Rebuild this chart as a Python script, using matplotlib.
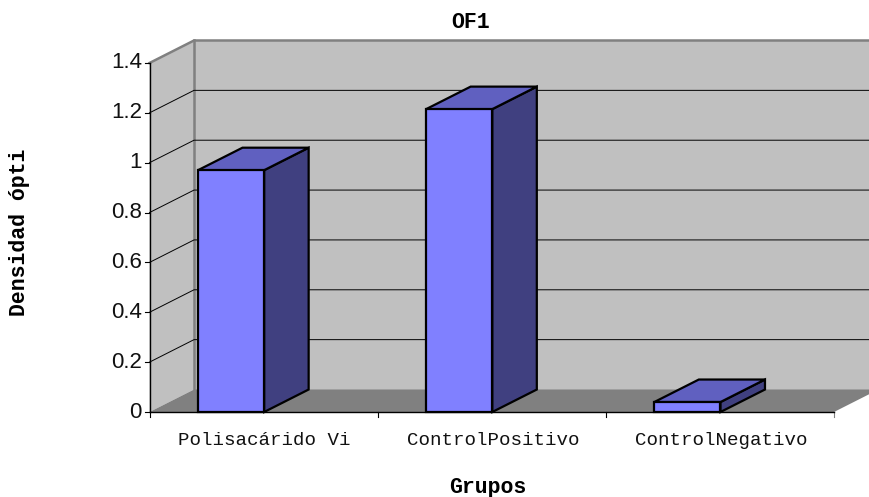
import matplotlib.pyplot as plt
from matplotlib.patches import Polygon

# chart values
grupos = ["Polisacárido Vi", "ControlPositivo", "ControlNegativo"]
densidad = [0.97, 1.215, 0.04]
y_ticks = [0, 0.2, 0.4, 0.6, 0.8, 1, 1.2, 1.4]
y_labels = ["0", "0.2", "0.4", "0.6", "0.8", "1", "1.2", "1.4"]

W, H = 869, 497
fig = plt.figure(figsize=(W / 100, H / 100), dpi=100)

# front plane of the 3d box
left, right, bottom, top = 149.5, 834, 412, 63
ax = fig.add_axes([left / W, 1 - bottom / H, (right - left) / W, (bottom - top) / H])
ax.set_xlim(0, 3)
ax.set_ylim(0, 1.4)
ax.axis("off")

# depth of the box in data units
dx = 44.5 / ((right - left) / 3)
dy = 22.5 / ((bottom - top) / 1.4)
x_max = 3 + dx


def poly(points, color, edge="none", lw=0, z=1):
    ax.add_patch(Polygon(points, closed=True, facecolor=color, edgecolor=edge,
                         linewidth=lw, zorder=z, clip_on=False, joinstyle="miter"))


# walls and floor
poly([(dx, dy), (x_max, dy), (x_max, 1.4 + dy), (dx, 1.4 + dy)], "#c0c0c0")
poly([(0, 0), (dx, dy), (dx, 1.4 + dy), (0, 1.4)], "#c0c0c0")
poly([(0, 0), (3, 0), (x_max, dy), (dx, dy)], "#808080")
ax.plot([0, dx, x_max], [1.4, 1.4 + dy, 1.4 + dy], color="#808080", lw=1.8, zorder=2, clip_on=False)
ax.plot([dx, dx], [dy, 1.4 + dy], color="#808080", lw=1.8, zorder=2, clip_on=False)

# gridlines run along the side wall then across the back wall
for t in y_ticks[1:-1]:
    ax.plot([0, dx, x_max], [t, t + dy, t + dy], color="black", lw=0.7, zorder=3, clip_on=False)

# bars
bar_w = 0.29
bar_off = 0.2125
for i, v in enumerate(densidad):
    x0 = i + bar_off
    x1 = x0 + bar_w
    poly([(x1, 0), (x1 + dx, dy), (x1 + dx, v + dy), (x1, v)], "#404080", "black", 1.6, 5)
    poly([(x0, v), (x1, v), (x1 + dx, v + dy), (x0 + dx, v + dy)], "#6060c0", "black", 1.6, 5)
    poly([(x0, 0), (x1, 0), (x1, v), (x0, v)], "#8080ff", "black", 1.6, 6)

# axes lines and ticks
ax.plot([0, 0], [0, 1.4], color="black", lw=1, zorder=7, clip_on=False)
ax.plot([0, 3], [0, 0], color="black", lw=1, zorder=7, clip_on=False)
tick_y = 5 / ((bottom - top) / 1.4)
tick_x = 5 / ((right - left) / 3)
for t, lab in zip(y_ticks, y_labels):
    ax.plot([-tick_x, 0], [t, t], color="black", lw=0.8, clip_on=False)
    ax.text(-tick_x - 0.012, t, lab, ha="right", va="center", fontsize=16,
            family="Liberation Sans", color="#111111")
for i in range(4):
    ax.plot([i, i], [0, -tick_y], color="#808080" if i == 3 else "black", lw=0.8, clip_on=False)
for i, g in enumerate(grupos):
    ax.text(i + 0.505, -0.115, g, ha="center", va="center", fontsize=13.8,
            family="Liberation Mono", color="#111111")

# titles
fig.text(471 / W, 1 - 23 / H, "OF1", ha="center", va="center", fontsize=15.5,
         family="Liberation Mono", weight="bold")
fig.text(488 / W, 1 - 488 / H, "Grupos", ha="center", va="center", fontsize=15.5,
         family="Liberation Mono", weight="bold")
fig.text(20 / W, 1 - 232 / H, "Densidad ópti", ha="center", va="center", fontsize=15.5,
         rotation=90, family="Liberation Mono", weight="bold")

fig.savefig("out.png", dpi=100)
